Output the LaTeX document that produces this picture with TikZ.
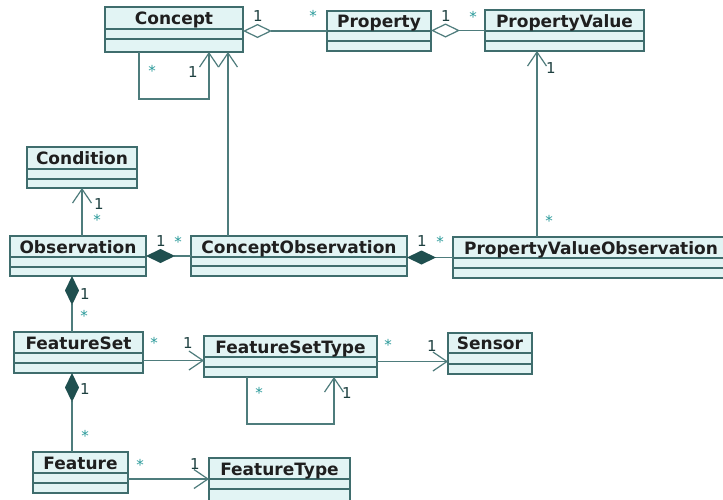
\documentclass[tikz,border=0pt]{standalone}
\usepackage{fontspec}
\setmainfont{DejaVu Sans}
\usetikzlibrary{arrows.meta,fit}

\definecolor{boxfill}{HTML}{E2F4F4}
\definecolor{boxedge}{HTML}{3F6D6D}
\definecolor{wire}{HTML}{4E7C7C}
\definecolor{diafill}{HTML}{1F4F4F}
\definecolor{startxt}{HTML}{2A9A9A}
\definecolor{onetxt}{HTML}{1E4040}

\tikzset{
  clsbox/.style={draw=boxedge, fill=boxfill, line width=1.2pt, inner sep=0pt, outer sep=0pt},
  clsrule/.style={draw=boxedge, line width=1.2pt},
  clstitle/.style={anchor=base, inner sep=0pt, font=\fontsize{17}{20}\selectfont\bfseries, text=black!88},
  wirestyle/.style={draw=wire, line width=1.2pt},
  nav/.style={wirestyle, -{Straight Barb[length=14pt,width=19pt]}},
  aggr/.style={wirestyle, {Diamond[open,length=29pt,width=14pt]}-},
  comp/.style={wirestyle, {Diamond[length=29pt,width=14pt,color=diafill]}-},
  multone/.style={anchor=base, inner sep=0pt, font=\fontsize{15}{18}\selectfont, text=onetxt},
  multstar/.style={anchor=base, inner sep=0pt, font=\fontsize{15}{18}\selectfont, text=startxt},
}

% class box: name, left, top, right, bottom, first rule, second rule, title
\newcommand\umlclass[8]{%
  \node[clsbox, fit={(#2,#3) (#4,#5)}] (#1) {};
  \draw[clsrule] (#2,#6) -- (#4,#6) (#2,#7) -- (#4,#7);
  \node[clstitle] (#1-title) at ({(#2+#4)/2},{(#3+#6)/2+6.5}) {#8};
}
% multiplicity marks, placed by the centre of the glyph
\newcommand\mone[3]{\node[multone] (#1) at (#2,{#3+6}) {1};}
\newcommand\mstar[3]{\node[multstar] (#1) at (#2,{#3+8}) {*};}

\begin{document}
\begin{tikzpicture}[x=1pt, y=-1pt]
  \fill[white] (0,0) rectangle (723,499);
  \useasboundingbox (0,0) rectangle (723,499);

  % classes
  \umlclass{concept}{105}{7}{243}{52}{29}{39}{Concept}
  \umlclass{property}{327}{11}{431}{51}{31}{41}{Property}
  \umlclass{propval}{485}{10}{644}{51}{31}{41}{PropertyValue}
  \umlclass{cond}{27}{147}{137}{188}{169}{179}{Condition}
  \umlclass{obs}{10}{236}{146}{276}{257}{267}{Observation}
  \umlclass{co}{191}{236}{407}{276}{257}{266}{ConceptObservation}
  \umlclass{pvo}{453}{237}{729}{278}{258}{268}{PropertyValueObservation}
  \umlclass{fs}{14}{332}{143}{373}{353}{363}{FeatureSet}
  \umlclass{fst}{204}{336}{377}{377}{357}{367}{FeatureSetType}
  \umlclass{sensor}{448}{333}{532}{374}{353}{364}{Sensor}
  \umlclass{feature}{33}{452}{128}{493}{473}{483}{Feature}
  \umlclass{ft}{209}{458}{350}{504}{479}{489}{FeatureType}

  % aggregations
  \draw[aggr] (property.west -| concept.east) -- (property.west);
  \draw[aggr] (propval.west -| property.east) -- (propval.west);

  % compositions
  \draw[comp] (obs.east) -- (obs.east -| co.west);
  \draw[comp] (pvo.west -| co.east) -- (pvo.west);
  \coordinate (obsbot) at ([xshift=-6pt]obs.south);
  \draw[comp] (obsbot) -- (obsbot |- fs.north);
  \coordinate (fsbot) at ([xshift=-6.5pt]fs.south);
  \draw[comp] (fsbot) -- (fsbot |- feature.north);

  % navigable associations
  \coordinate (cotop) at ([xshift=-71pt]co.north);
  \draw[nav] (cotop) -- (cotop |- concept.south);
  \coordinate (pvotop) at ([xshift=84pt]pvo.north west);
  \draw[nav] (pvotop) -- (pvotop |- propval.south);
  \draw[nav] (cond.south |- obs.north) -- (cond.south);
  \coordinate (fstin) at ([yshift=-4pt]fst.west);
  \draw[nav] (fstin -| fs.east) -- (fstin);
  \coordinate (fstout) at ([yshift=-5pt]fst.east);
  \draw[nav] (fstout) -- (fstout -| sensor.west);
  \coordinate (featout) at ([yshift=-6.5pt]feature.east);
  \draw[nav] (featout) -- (featout -| ft.west);

  % self associations
  \draw[nav] ([xshift=34pt]concept.south west) -- ++(0,47) -| ([xshift=-34pt]concept.south east);
  \draw[nav] ([xshift=43pt]fst.south west) -- ++(0,47) -| ([xshift=-43pt]fst.south east);

  % multiplicities
  \mstar{m1}{152}{68}   \mone{m2}{193}{71}
  \mone{m3}{258}{15}    \mstar{m4}{313}{13}
  \mone{m5}{446}{15}    \mstar{m6}{473}{14}
  \mone{m7}{551}{67}    \mstar{m8}{549}{218}
  \mone{m9}{99}{203}    \mstar{m10}{97}{217}
  \mone{m11}{161}{240}  \mstar{m12}{178}{239}
  \mone{m13}{422}{240}  \mstar{m14}{440}{239}
  \mone{m15}{85}{293}   \mstar{m16}{84}{313}
  \mstar{m17}{154}{340} \mone{m18}{188}{342}
  \mstar{m19}{259}{390} \mone{m20}{347}{392}
  \mstar{m21}{388}{342} \mone{m22}{432}{345}
  \mone{m23}{85}{388}   \mstar{m24}{85}{433}
  \mstar{m25}{140}{462} \mone{m26}{195}{463}
\end{tikzpicture}
\end{document}
